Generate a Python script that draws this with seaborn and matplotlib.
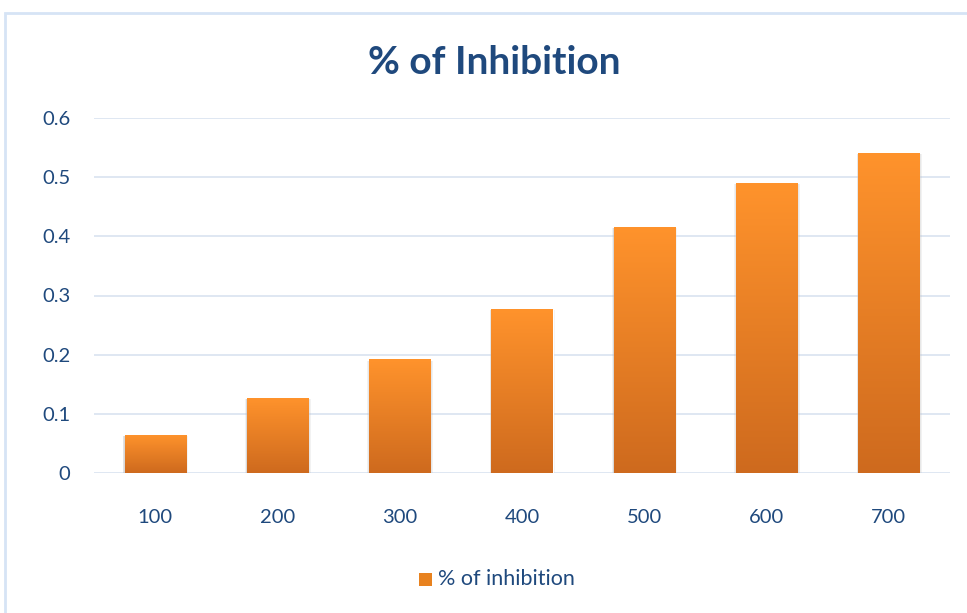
import numpy as np
import pandas as pd
import seaborn as sns
import matplotlib.pyplot as plt
from matplotlib.patches import Rectangle
from matplotlib.colors import LinearSegmentedColormap

# values
concentrations = ['100', '200', '300', '400', '500', '600', '700']
inhibition = [0.065, 0.127, 0.192, 0.277, 0.416, 0.490, 0.541]
y_ticks = [0, 0.1, 0.2, 0.3, 0.4, 0.5, 0.6]
y_tick_labels = ['0', '0.1', '0.2', '0.3', '0.4', '0.5', '0.6']

df = pd.DataFrame({'conc': concentrations, 'inhibition': inhibition})

sns.set_theme(style='white')
plt.rcParams['font.family'] = ['Lato', 'DejaVu Sans']

text_color = '#1F497D'
grid_color = '#D9E3F0'
top_color = '#FF932C'
bottom_color = '#CE6A1E'

fig = plt.figure(figsize=(9.67, 6.13), dpi=100)
ax = fig.add_axes([94 / 967, 140 / 613, 856 / 967, 355 / 613])

sns.barplot(data=df, x='conc', y='inhibition', color=top_color, width=0.5,
            saturation=1, ax=ax, zorder=3)

ax.set_yticks(y_ticks)
ax.set_yticklabels(y_tick_labels)
ax.yaxis.grid(True, color=grid_color, linewidth=1.2, zorder=0)
ax.set_axisbelow(True)
for s in ax.spines.values():
    s.set_visible(False)
ax.set_xlabel('')
ax.set_ylabel('')
ax.tick_params(axis='both', length=0, labelsize=14.5, labelcolor=text_color)
ax.tick_params(axis='x', pad=26)
ax.tick_params(axis='y', pad=17)

# vertical gradient fill + soft shadow for each bar
cmap = LinearSegmentedColormap.from_list('bar', [bottom_color, top_color])
grad = np.linspace(0, 1, 256).reshape(-1, 1)
for bar in list(ax.patches):
    x0, w, h = bar.get_x(), bar.get_width(), bar.get_height()
    for off, a in [(0.035, 0.12), (0.022, 0.18), (0.01, 0.25)]:
        ax.add_patch(Rectangle((x0 - off * 0.4, 0), w + off, h - 0.002,
                               facecolor='#9A9A9A', alpha=a, edgecolor='none',
                               zorder=2))
    img = ax.imshow(grad, cmap=cmap, extent=[x0, x0 + w, 0, h], origin='lower',
                    aspect='auto', zorder=4)
    img.set_clip_path(bar)
ax.set_xlim(-0.5, len(concentrations) - 0.5)
ax.set_ylim(0, 0.6)

fig.text(494 / 967, 1 - 62 / 613, '% of Inhibition', ha='center', va='center',
         fontsize=28, fontweight='bold', color=text_color)

# legend
fig.patches.append(Rectangle((419 / 967, 1 - 586 / 613), 13 / 967, 13 / 613,
                             transform=fig.transFigure, facecolor='#E8821F',
                             edgecolor='none'))
fig.text(438 / 967, 1 - 579 / 613, '% of inhibition', ha='left', va='center',
         fontsize=15.5, color=text_color)

# chart frame
fig.patches.append(Rectangle((5 / 967, -0.05), 1.1, 1 - 13 / 613 + 0.05,
                             transform=fig.transFigure, facecolor='none',
                             edgecolor='#D6E4F5', linewidth=2))

fig.savefig('out.png', dpi=100)
plt.close()
